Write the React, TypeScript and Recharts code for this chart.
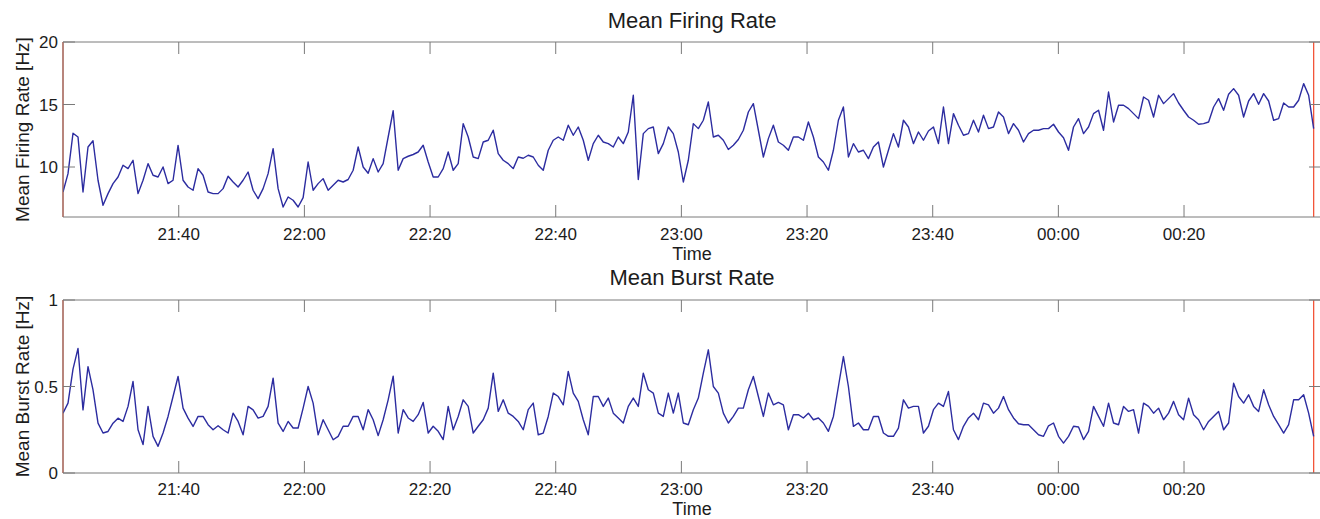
import { Line, LineChart, ReferenceLine, XAxis, YAxis } from "recharts";

// samples are minutes after 21:00, one every ~0.8 min
const sampleStartMin = 21.58;
const sampleStepMin = 0.7962;

const firingRate = [
  8.0, 9.47, 12.7, 12.4, 8.0, 11.6, 12.1, 8.94, 6.94, 7.87,
  8.67, 9.2, 10.14, 9.87, 10.54, 7.87, 8.94, 10.27, 9.34, 9.2,
  10.0, 8.67, 8.94, 11.73, 8.94, 8.4, 8.14, 9.87, 9.34, 8.0,
  7.87, 7.87, 8.27, 9.26, 8.8, 8.4, 8.94, 9.6, 8.14, 7.47,
  8.27, 9.47, 11.47, 8.27, 6.8, 7.6, 7.34, 6.8, 7.55, 10.4,
  8.14, 8.67, 9.07, 8.14, 8.54, 8.94,
  8.8, 9.0, 9.74, 11.6, 10.0, 9.5, 10.67, 9.6, 10.27, 12.4,
  14.5, 9.74, 10.67, 10.86, 11.0, 11.2, 11.74, 10.4, 9.2, 9.2,
  9.87, 11.2, 9.74, 10.27, 13.47, 12.4, 10.8, 10.67, 12.0, 12.14,
  12.94, 11.07, 10.54, 10.27, 9.87, 10.8, 10.7, 10.94, 10.8, 10.14,
  9.74, 11.34, 12.14, 12.4, 12.14, 13.34, 12.54, 13.2, 12.14, 10.54,
  11.87, 12.54, 12.0, 11.87, 11.6, 12.4, 11.87, 12.8, 15.74, 9.0,
  12.67, 13.07, 13.2, 11.07,
  11.87, 13.2, 12.67, 11.2, 8.8, 10.54, 13.47, 13.07, 13.74, 15.2,
  12.4, 12.54, 12.14, 11.4, 11.74, 12.2, 12.94, 14.4, 15.07, 12.94,
  10.8, 12.27, 13.34, 12.0, 11.74, 11.34, 12.4, 12.4, 12.14, 13.6,
  12.4, 10.8, 10.4, 9.74, 11.34, 13.74, 14.8, 10.8, 11.87, 11.2,
  11.34, 10.67, 11.6, 12.0, 10.0, 11.34, 12.67, 11.6, 13.74, 13.2,
  11.87, 12.8, 12.14, 12.88, 13.2, 11.87, 14.8, 11.87, 14.27, 13.34,
  12.54, 12.67, 13.74, 12.8,
  14.14, 13.07, 13.2, 14.4, 14.0, 12.67, 13.47, 12.94, 12.0, 12.67,
  12.94, 12.94, 13.07, 13.07, 13.42, 12.8, 12.34, 11.34, 13.2, 13.87,
  12.67, 13.2, 14.27, 14.54, 12.94, 16.0, 13.6, 14.94, 14.94, 14.67,
  14.27, 13.87, 15.6, 15.34, 14.0, 15.74, 15.07, 15.47, 15.87, 15.12,
  14.54, 14.0, 13.74, 13.42, 13.47, 13.6, 14.8, 15.47, 14.54, 15.82,
  16.27, 15.74, 14.0, 15.28, 15.87, 15.02, 15.87, 15.28, 13.74, 13.87,
  15.12, 14.8, 14.8, 15.34, 16.67, 15.74, 13.07,
];

const burstRate = [
  0.346, 0.404, 0.6, 0.72, 0.365, 0.615, 0.481, 0.288, 0.231, 0.24,
  0.288, 0.317, 0.298, 0.385, 0.529, 0.25, 0.164, 0.385, 0.212, 0.154,
  0.231, 0.327, 0.442, 0.558, 0.375, 0.317, 0.269, 0.327, 0.327, 0.279,
  0.25, 0.273, 0.25, 0.231, 0.346, 0.298, 0.221, 0.385, 0.365, 0.317,
  0.327, 0.385, 0.548, 0.288, 0.24, 0.298, 0.26, 0.26, 0.375, 0.5,
  0.404, 0.221, 0.308, 0.25, 0.192, 0.212,
  0.27, 0.27, 0.327, 0.327, 0.25, 0.366, 0.308, 0.216, 0.308, 0.423,
  0.56, 0.231, 0.366, 0.318, 0.298, 0.337, 0.408, 0.231, 0.27, 0.241,
  0.193, 0.385, 0.25, 0.327, 0.423, 0.385, 0.231, 0.27, 0.308, 0.375,
  0.577, 0.356, 0.423, 0.346, 0.327, 0.298, 0.25, 0.366, 0.404, 0.221,
  0.231, 0.327, 0.462, 0.442, 0.394, 0.587, 0.462, 0.414, 0.308, 0.221,
  0.442, 0.442, 0.385, 0.433, 0.346, 0.318, 0.289, 0.385, 0.433, 0.385,
  0.577, 0.481, 0.462, 0.346,
  0.327, 0.462, 0.346, 0.462, 0.289, 0.279, 0.366, 0.433, 0.577, 0.712,
  0.5, 0.462, 0.346, 0.289, 0.327, 0.375, 0.375, 0.481, 0.558, 0.442,
  0.327, 0.462, 0.394, 0.408, 0.394, 0.25, 0.337, 0.337, 0.318, 0.346,
  0.308, 0.318, 0.289, 0.241, 0.327, 0.5, 0.673, 0.5, 0.27, 0.289,
  0.25, 0.25, 0.327, 0.327, 0.231, 0.212, 0.212, 0.26, 0.423, 0.375,
  0.385, 0.385, 0.231, 0.27, 0.366, 0.404, 0.385, 0.471, 0.25, 0.193,
  0.27, 0.318, 0.346, 0.308,
  0.404, 0.394, 0.346, 0.375, 0.442, 0.366, 0.318, 0.285, 0.279, 0.279,
  0.25, 0.221, 0.212, 0.273, 0.289, 0.212, 0.173, 0.212, 0.27, 0.266,
  0.193, 0.241, 0.385, 0.327, 0.27, 0.404, 0.289, 0.279, 0.385, 0.356,
  0.366, 0.231, 0.404, 0.385, 0.346, 0.375, 0.308, 0.346, 0.414, 0.337,
  0.308, 0.433, 0.337, 0.308, 0.25, 0.298, 0.327, 0.356, 0.25, 0.289,
  0.519, 0.442, 0.404, 0.452, 0.385, 0.356, 0.481, 0.394, 0.327, 0.279,
  0.231, 0.279, 0.423, 0.423, 0.452, 0.346, 0.212,
];

const timeTicks = [40, 60, 80, 100, 120, 140, 160, 180, 200];
const firingTicks = [10, 15, 20];
const burstTicks = [0, 0.5, 1];

const recordingEndMin = sampleStartMin + (firingRate.length - 1) * sampleStepMin;
const timeDomain: [number, number] = [sampleStartMin, 221.8];

const toRows = (values: number[]) =>
  values.map((v, i) => ({ t: sampleStartMin + i * sampleStepMin, v }));

const fmtClock = (m: number) => {
  const h = (21 + Math.floor(m / 60)) % 24;
  const mm = Math.round(m % 60);
  return `${String(h).padStart(2, "0")}:${String(mm).padStart(2, "0")}`;
};

const axisGray = "#7a7a7a";
const ink = "#1c1c1c";
const traceBlue = "#2c2ca0";
const markerRed = "#f2553a";
const TICK_LEN = 12;
const TICK_FONT = 17;

// matlab-style ticks: short marks pointing into the box, labels outside
const bottomTick = (gap: number) => (props: any) => {
  const { x, y, payload } = props;
  const edge = y - gap;
  return (
    <g>
      <line x1={x} x2={x} y1={edge} y2={edge - TICK_LEN} stroke={axisGray} />
      <text x={x} y={y} dy="0.71em" textAnchor="middle" fill={ink} fontSize={TICK_FONT}>
        {fmtClock(payload.value)}
      </text>
    </g>
  );
};

const topTick = (props: any) => {
  const { x, y } = props;
  return <line x1={x} x2={x} y1={y} y2={y + TICK_LEN} stroke={axisGray} />;
};

const LEFT_GAP = 5;
const leftTick = (props: any) => {
  const { x, y, payload } = props;
  const edge = x + LEFT_GAP;
  return (
    <g>
      <line x1={edge} x2={edge + TICK_LEN} y1={y} y2={y} stroke={axisGray} />
      <text x={x} y={y} dy="0.355em" textAnchor="end" fill={ink} fontSize={TICK_FONT}>
        {payload.value}
      </text>
    </g>
  );
};

const rightTick = (props: any) => {
  const { x, y } = props;
  return <line x1={x} x2={x - TICK_LEN} y1={y} y2={y} stroke={axisGray} />;
};

type PanelProps = {
  values: number[];
  title: string;
  yLabel: string;
  yDomain: [number, number];
  yTicks: number[];
  top: number;
  height: number;
  marginTop: number;
  axisHeight: number;
  tickGap: number;
  timeOffset: number;
  titleOffset: number;
};

function RatePanel(p: PanelProps) {
  const data = toRows(p.values);
  return (
    <div style={{ position: "absolute", left: 0, top: p.top }}>
      <LineChart
        width={1322}
        height={p.height}
        data={data}
        margin={{ top: p.marginTop, right: 0, bottom: 0, left: 0 }}
      >
        <XAxis
          dataKey="t"
          type="number"
          domain={timeDomain}
          ticks={timeTicks}
          interval={0}
          allowDataOverflow
          height={p.axisHeight}
          tickSize={0}
          tickLine={false}
          tickMargin={p.tickGap}
          stroke={axisGray}
          tick={bottomTick(p.tickGap)}
          label={{ value: "Time", position: "insideBottom", offset: p.timeOffset, fontSize: 18, fill: ink }}
        />
        {/* box top with inward ticks, carries the panel title */}
        <XAxis
          xAxisId="top"
          orientation="top"
          dataKey="t"
          type="number"
          domain={timeDomain}
          ticks={timeTicks}
          interval={0}
          allowDataOverflow
          height={1}
          tickSize={0}
          tickLine={false}
          tickMargin={0}
          tick={topTick}
          stroke={axisGray}
          label={{ value: p.title, position: "top", offset: p.titleOffset, fontSize: 22, fill: ink }}
        />
        <YAxis
          type="number"
          domain={p.yDomain}
          ticks={p.yTicks}
          interval={0}
          allowDataOverflow
          width={63}
          tickSize={0}
          tickLine={false}
          tickMargin={LEFT_GAP}
          stroke={axisGray}
          tick={leftTick}
          label={{
            value: p.yLabel,
            angle: -90,
            position: "insideLeft",
            offset: 22,
            fontSize: 19,
            fill: ink,
            style: { textAnchor: "middle" },
          }}
        />
        <YAxis
          yAxisId="right"
          orientation="right"
          type="number"
          domain={p.yDomain}
          ticks={p.yTicks}
          interval={0}
          allowDataOverflow
          width={1}
          tickSize={0}
          tickLine={false}
          tickMargin={0}
          tick={rightTick}
          stroke={axisGray}
        />
        <ReferenceLine x={sampleStartMin} stroke={markerRed} strokeWidth={1.3} />
        <ReferenceLine x={recordingEndMin} stroke={markerRed} strokeWidth={1.3} />
        <Line
          dataKey="v"
          type="linear"
          stroke={traceBlue}
          strokeWidth={1.4}
          strokeLinejoin="round"
          dot={false}
          activeDot={false}
          isAnimationActive={false}
        />
      </LineChart>
    </div>
  );
}

export default function App() {
  return (
    <div
      style={{
        position: "fixed",
        left: 0,
        top: 0,
        width: 1320,
        height: 519,
        overflow: "hidden",
        background: "#fff",
        fontFamily: "'Liberation Sans', Arial, sans-serif",
      }}
    >
      <RatePanel
        values={firingRate}
        title="Mean Firing Rate"
        yLabel="Mean Firing Rate [Hz]"
        yDomain={[6, 20]}
        yTicks={firingTicks}
        top={0}
        height={265}
        marginTop={41}
        axisHeight={48}
        tickGap={11}
        timeOffset={5}
        titleOffset={13}
      />
      <RatePanel
        values={burstRate}
        title="Mean Burst Rate"
        yLabel="Mean Burst Rate [Hz]"
        yDomain={[0, 1]}
        yTicks={burstTicks}
        top={259}
        height={260}
        marginTop={40}
        axisHeight={46}
        tickGap={10}
        timeOffset={4}
        titleOffset={14}
      />
    </div>
  );
}
